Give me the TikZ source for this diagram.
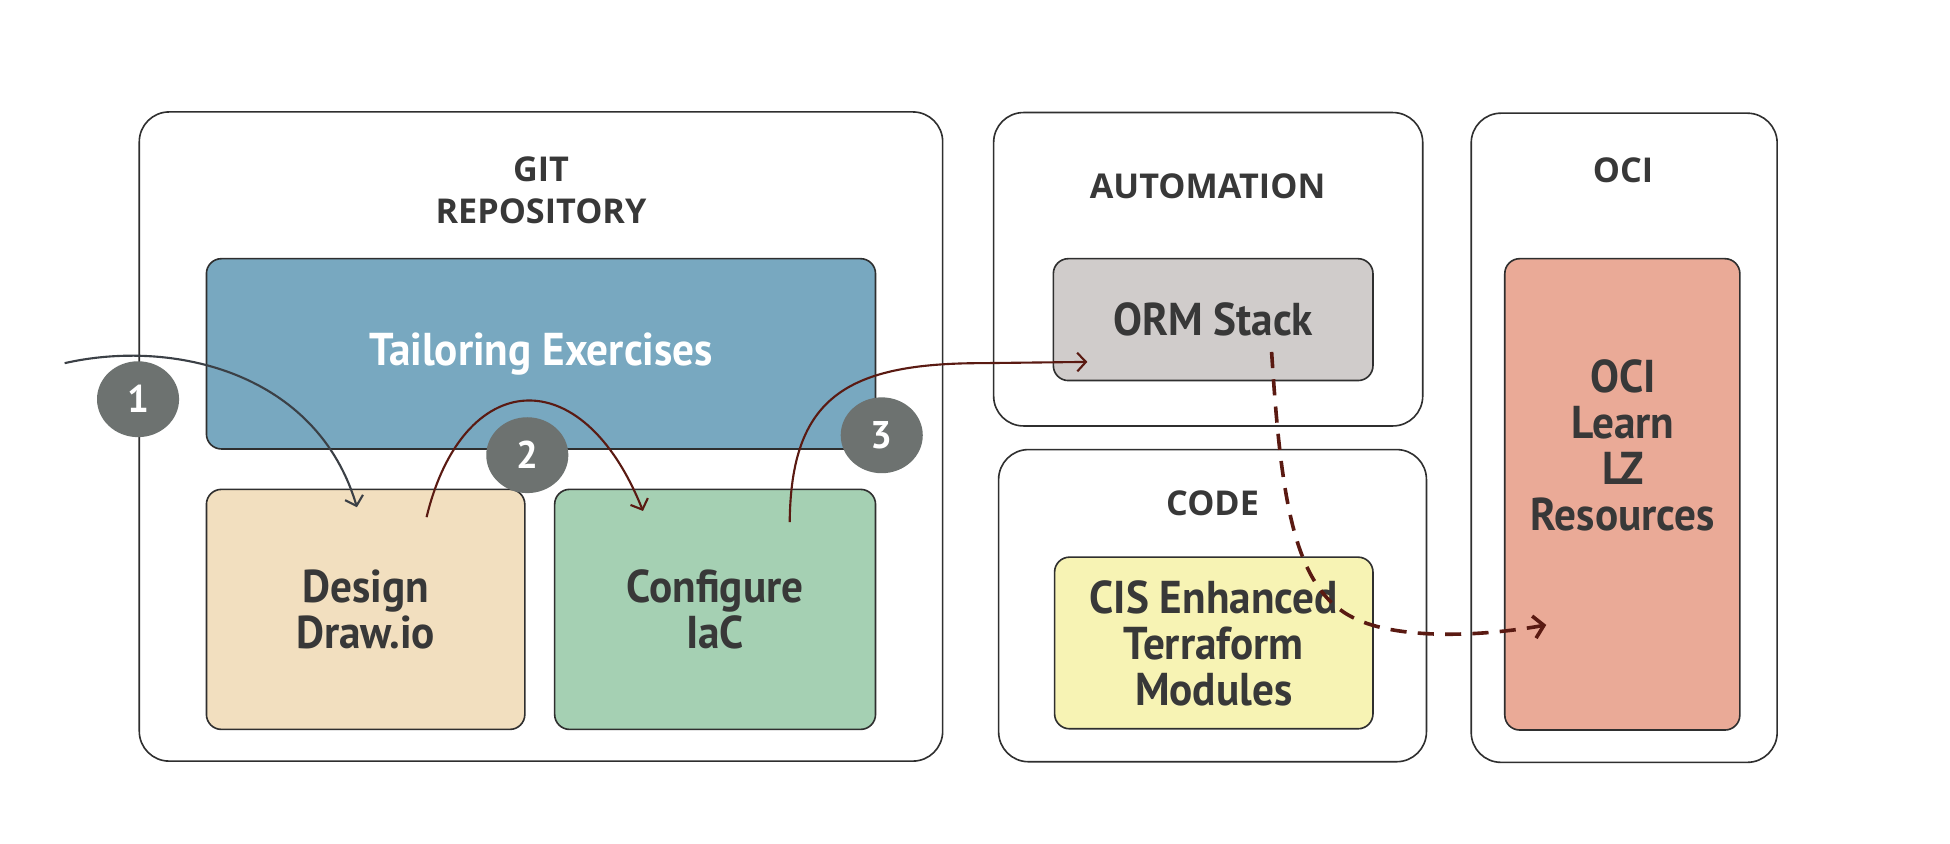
\documentclass[tikz,border=0pt]{standalone}
\usepackage{fontspec}
\setmainfont{PT Sans}
\newfontfamily\bigfont{PT Sans}[FakeStretch=0.94]
\newfontfamily\titlefont{Open Sans}
\usetikzlibrary{arrows.meta,shapes.geometric}
\definecolor{inkc}{HTML}{2F2F2F}
\definecolor{txtc}{HTML}{383838}
\definecolor{bluec}{HTML}{78A8C0}
\definecolor{beigec}{HTML}{F2DFBF}
\definecolor{greenc}{HTML}{A5D0B3}
\definecolor{greyc}{HTML}{D0CCCB}
\definecolor{yellowc}{HTML}{F7F3B4}
\definecolor{salmonc}{HTML}{EAAA97}
\definecolor{badgec}{HTML}{6D7270}
\definecolor{arrgrey}{HTML}{3B4046}
\definecolor{arrred}{HTML}{5A1A12}
\begin{document}
\begin{tikzpicture}[x=1pt,y=-1pt,
  outerbox/.style={draw=inkc, line width=1.3pt, rounded corners=24pt, inner sep=0pt},
  innerbox/.style={draw=inkc, line width=1.3pt, rounded corners=12pt, inner sep=0pt,
     text=txtc, align=center, font=\bigfont\bfseries\fontsize{37pt}{37pt}\selectfont},
  titletext/.style={text=txtc, align=center, font=\titlefont\bfseries\fontsize{27.5pt}{33pt}\selectfont},
  bigtext/.style={text=txtc, align=center, font=\bigfont\bfseries\fontsize{37pt}{37pt}\selectfont},
  badge/.style={ellipse, fill=badgec, minimum width=66pt, minimum height=61pt, inner sep=0pt,
     text=white, font=\bfseries\fontsize{31pt}{31pt}\selectfont},
  arrA/.style={draw=arrgrey, line width=1.7pt, -{Straight Barb[length=7pt,width=15pt]}},
  arrB/.style={draw=arrred, line width=1.7pt, -{Straight Barb[length=7pt,width=15pt]}},
  arrD/.style={draw=arrred, line width=2.9pt, dash pattern=on 13pt off 9pt,
     -{Straight Barb[length=8pt,width=18pt]}}
]
\useasboundingbox (0,0) rectangle (1568,678);
\fill[white] (0,0) rectangle (1568,678);

% outer containers
\node[outerbox, minimum width=646pt, minimum height=522pt] (git) at (435,351) {};
\node[outerbox, minimum width=345pt, minimum height=252pt] (auto) at (971.5,216.5) {};
\node[outerbox, minimum width=344pt, minimum height=251pt] (code) at (975,487) {};
\node[outerbox, minimum width=246pt, minimum height=522pt] (oci) at (1306,352) {};

% titles
\node[titletext] (gitt) at (435,153) {GIT\\REPOSITORY};
\node[titletext] (autot) at (971,150) {AUTOMATION};
\node[titletext] (ocit) at (1305,137) {OCI};
\node[titletext] (codet) at (975,405) {CODE};

% inner boxes
\node[innerbox, fill=bluec, text=white, minimum width=538pt, minimum height=153pt] (tailor) at (435,284.5) {Tailoring Exercises};
\node[innerbox, fill=beigec, minimum width=256pt, minimum height=193pt] (design) at (294,490) {Design\\Draw.io};
\node[innerbox, fill=greenc, minimum width=258pt, minimum height=193pt] (config) at (575,490) {Configure\\IaC};
\node[innerbox, fill=greyc, minimum width=257pt, minimum height=98pt] (orm) at (975.5,257) {ORM Stack};
\node[innerbox, fill=yellowc, minimum width=256pt, minimum height=138pt] (cis) at (976,517) {CIS Enhanced\\Terraform\\Modules};
\node[innerbox, fill=salmonc, minimum width=189pt, minimum height=379pt] (ocires) at (1304.5,397.5) {};
\node[bigtext] (ocirest) at (1305,358) {OCI\\Learn\\LZ\\Resources};

% connector end points
\coordinate (a1s) at (52,292);
\coordinate (a1e) at ([shift={(-7,15)}]design.north);
\coordinate (a2s) at ([shift={(49,23)}]design.north);
\coordinate (a2e) at ([shift={(-58,18)}]config.north);
\coordinate (a3s) at ([shift={(60,27)}]config.north);
\coordinate (a3e) at ([shift={(28,34)}]orm.west);
\coordinate (a4s) at ([shift={(47,26)}]orm.center);
\coordinate (a4e) at ([shift={(34,105)}]ocires.west);

% connectors
\draw[arrA] (a1s) .. controls (140,272) and (255,300) .. (a1e);
\draw[arrB] (a2s) .. controls (372,296) and (468,288) .. (a2e);
\draw[arrB] (a3s) .. controls (636,320) and (680,292) .. (790,292) -- (a3e);
\draw[arrD] (a4s) .. controls (1030,400) and (1040,470) .. (1085,495)
   .. controls (1120,515) and (1190,512) .. (a4e);

% badges
\node[badge] (b1) at (111,321) {1};
\node[badge] (b2) at (424,366) {2};
\node[badge] (b3) at (709,350) {3};
\end{tikzpicture}
\end{document}
